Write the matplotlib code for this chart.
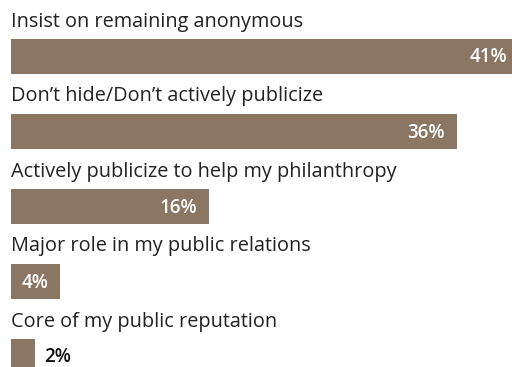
import matplotlib
matplotlib.use('Agg')
import matplotlib.pyplot as plt

# Survey answers and shares (%)
categories = [
    'Insist on remaining anonymous',
    'Don\u2019t hide/Don\u2019t actively publicize',
    'Actively publicize to help my philanthropy',
    'Major role in my public relations',
    'Core of my public reputation',
]
values = [41, 36, 16, 4, 2]
labels = ['41%', '36%', '16%', '4%', '2%']

bar_color = '#8b7563'
plt.rcParams['font.family'] = ['Open Sans', 'DejaVu Sans']

fig = plt.figure(figsize=(5.12, 3.67), dpi=100)
ax = fig.add_axes([0, 0, 1, 1])

px = 12.4  # pixels per percentage point
ypx = 75   # pixels per row
ax.set_xlim(-10.5 / px, (512 - 10.5) / px)
ax.set_ylim((367 - 56) / ypx, -56 / ypx)

ypos = list(range(len(categories)))
ax.barh(ypos, values, height=35 / ypx, color=bar_color, left=0)

for i, (cat, v, lab) in enumerate(zip(categories, values, labels)):
    ax.text(0.05, i - 29.5 / ypx, cat, ha='left', va='baseline',
            fontsize=14.3, color='#222222')
    if v >= 4:
        ax.text(v - 12 / px, i + 6.5 / ypx, lab, ha='right', va='baseline',
                fontsize=13.5, color='white', fontweight='semibold')
    else:
        ax.text(v + 9 / px, i + 6 / ypx, lab, ha='left', va='baseline',
                fontsize=13.5, color='#111111', fontweight='semibold')

ax.axis('off')
fig.savefig('out.png', dpi=100)
